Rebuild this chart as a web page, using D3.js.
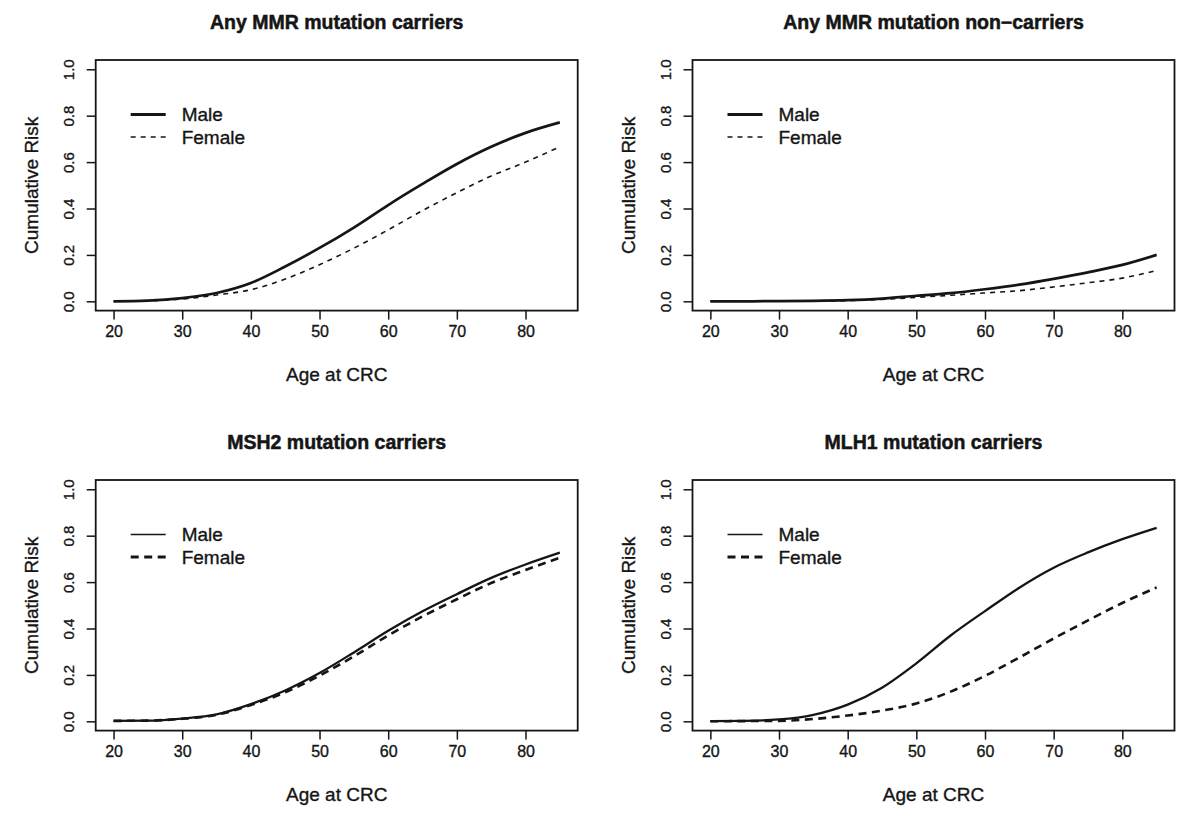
<!DOCTYPE html>
<html>
<head>
<meta charset="utf-8">
<script src="https://cdn.jsdelivr.net/npm/d3@7"></script>
<style>
  html, body { margin: 0; padding: 0; background: #fff; }
  svg { display: block; font-family: "Liberation Sans", Arial, Helvetica, sans-serif; }
</style>
</head>
<body>
<svg id="chart" width="1200" height="824"></svg>
<script>
// ---------- data ----------
const ages = [20, 25, 30, 35, 40, 45, 50, 55, 60, 65, 70, 75, 80, 85];
const panelTitles = ["Any MMR mutation carriers", "Any MMR mutation non\u2212carriers",
                     "MSH2 mutation carriers", "MLH1 mutation carriers"];
const seriesNames = ["Male", "Female"];
const xTicks = [20, 30, 40, 50, 60, 70, 80];
const yTicks = [0.0, 0.2, 0.4, 0.6, 0.8, 1.0];
const xLabel = "Age at CRC";
const yLabel = "Cumulative Risk";

const anyCarrierMale   = [0, 0.003, 0.014, 0.036, 0.079, 0.150, 0.230, 0.318, 0.415, 0.506, 0.592, 0.666, 0.726, 0.771];
const anyCarrierFemale = [0, 0.002, 0.010, 0.027, 0.050, 0.096, 0.158, 0.229, 0.308, 0.391, 0.468, 0.540, 0.600, 0.666];
const nonCarrierMale   = [0, 0.000, 0.001, 0.002, 0.005, 0.012, 0.024, 0.035, 0.052, 0.072, 0.097, 0.125, 0.157, 0.200];
const nonCarrierFemale = [0, 0.000, 0.001, 0.001, 0.003, 0.008, 0.017, 0.026, 0.036, 0.046, 0.062, 0.080, 0.100, 0.133];
const msh2Male         = [0.002, 0.003, 0.012, 0.030, 0.074, 0.133, 0.208, 0.297, 0.390, 0.474, 0.548, 0.618, 0.676, 0.727];
const msh2Female       = [0.002, 0.003, 0.011, 0.028, 0.070, 0.125, 0.197, 0.280, 0.370, 0.452, 0.526, 0.596, 0.652, 0.705];
const mlh1Male         = [0.001, 0.002, 0.008, 0.028, 0.072, 0.145, 0.250, 0.370, 0.475, 0.576, 0.662, 0.728, 0.785, 0.834];
const mlh1Female       = [0.000, 0.001, 0.002, 0.010, 0.025, 0.046, 0.077, 0.128, 0.196, 0.275, 0.357, 0.435, 0.510, 0.577];

const panelSeries = [
  [anyCarrierMale, anyCarrierFemale],
  [nonCarrierMale, nonCarrierFemale],
  [msh2Male, msh2Female],
  [mlh1Male, mlh1Female]
];

// ---------- layout / style ----------
const boxes = [
  {x0: 95.7,  x1: 577.7,  y0: 60.0,  y1: 310.6, bold: true},
  {x0: 692.5, x1: 1174.5, y0: 60.0,  y1: 310.6, bold: true},
  {x0: 95.7,  x1: 577.7,  y0: 480.0, y1: 730.6, bold: false},
  {x0: 692.5, x1: 1174.5, y0: 480.0, y1: 730.6, bold: false}
];
const ink = "#151515";
const textHalo = 0.35;

const svg = d3.select("#chart");

boxes.forEach((b, i) => {
  // R-style 4% extension
  const xr = [20, 85], yr = [0, 1];
  const xd = [xr[0] - 0.04 * (xr[1] - xr[0]), xr[1] + 0.04 * (xr[1] - xr[0])];
  const yd = [yr[0] - 0.04, yr[1] + 0.04];
  const x = d3.scaleLinear().domain(xd).range([b.x0, b.x1]);
  const y = d3.scaleLinear().domain(yd).range([b.y1, b.y0]);
  const g = svg.append("g");

  // box
  g.append("rect")
    .attr("x", b.x0).attr("y", b.y0)
    .attr("width", b.x1 - b.x0).attr("height", b.y1 - b.y0)
    .attr("fill", "none").attr("stroke", ink).attr("stroke-width", 1.8);

  // x axis
  const xAxis = d3.axisBottom(x).tickValues(xTicks).tickSize(9).tickPadding(6).tickFormat(d3.format("d"));
  const gx = g.append("g").attr("transform", `translate(0,${b.y1})`).call(xAxis);
  gx.select(".domain").remove();
  gx.selectAll(".tick line").attr("stroke", ink).attr("stroke-width", 1.5);
  gx.selectAll(".tick text").attr("fill", ink).attr("font-size", 16)
    .attr("stroke", ink).attr("stroke-width", textHalo)
    .attr("font-family", "Liberation Sans, Arial, sans-serif");

  // y axis
  const yAxis = d3.axisLeft(y).tickValues(yTicks).tickSize(9).tickPadding(0).tickFormat(d3.format(".1f"));
  const gy = g.append("g").attr("transform", `translate(${b.x0},0)`).call(yAxis);
  gy.select(".domain").remove();
  gy.selectAll(".tick line").attr("stroke", ink).attr("stroke-width", 1.5);
  gy.selectAll(".tick text")
    .attr("fill", ink).attr("font-size", 15)
    .attr("stroke", ink).attr("stroke-width", textHalo)
    .attr("font-family", "Liberation Sans, Arial, sans-serif")
    .attr("x", null).attr("dy", null)
    .attr("text-anchor", "middle")
    .attr("transform", "translate(-22,0) rotate(-90)");

  // titles
  const cx = (b.x0 + b.x1) / 2, cy = (b.y0 + b.y1) / 2;
  g.append("text").attr("x", cx).attr("y", b.y0 - 31)
    .attr("text-anchor", "middle").attr("font-weight", "bold").attr("font-size", 19.5)
    .attr("stroke", ink).attr("stroke-width", 0.5)
    .attr("fill", ink).text(panelTitles[i]);
  g.append("text").attr("x", cx).attr("y", b.y1 + 70)
    .attr("text-anchor", "middle").attr("font-size", 19).attr("fill", ink)
    .attr("stroke", ink).attr("stroke-width", textHalo).text(xLabel);
  g.append("text").attr("transform", `translate(${b.x0 - 58},${cy}) rotate(-90)`)
    .attr("text-anchor", "middle").attr("font-size", 19).attr("fill", ink)
    .attr("stroke", ink).attr("stroke-width", textHalo).text(yLabel);

  // curves
  const line = d3.line().x((d, j) => x(ages[j])).y(d => y(d)).curve(d3.curveMonotoneX);
  const maleW = b.bold ? 2.7 : 2.3;
  const femW = b.bold ? 1.6 : 2.6;
  const femDash = b.bold ? "5,5" : "8,5.5";
  g.append("path").datum(panelSeries[i][0]).attr("d", line)
    .attr("fill", "none").attr("stroke", ink).attr("stroke-width", maleW);
  g.append("path").datum(panelSeries[i][1]).attr("d", line)
    .attr("fill", "none").attr("stroke", ink).attr("stroke-width", femW)
    .attr("stroke-dasharray", femDash);

  // legend
  const lx0 = b.x0 + 35, lx1 = b.x0 + 70, tx = b.x0 + 86;
  const ly = [b.y0 + 54.5, b.y0 + 77];
  const legW = [b.bold ? 3 : 1.6, b.bold ? 1.5 : 3];
  const legDash = [null, b.bold ? "5,5" : "8,5.5"];
  seriesNames.forEach((name, k) => {
    g.append("line").attr("x1", lx0).attr("x2", lx1).attr("y1", ly[k]).attr("y2", ly[k])
      .attr("stroke", ink).attr("stroke-width", legW[k])
      .attr("stroke-dasharray", legDash[k]);
    g.append("text").attr("x", tx).attr("y", ly[k]).attr("dy", "0.36em")
      .attr("font-size", 19).attr("fill", ink)
      .attr("stroke", ink).attr("stroke-width", textHalo).text(name);
  });
});
</script>
</body>
</html>
